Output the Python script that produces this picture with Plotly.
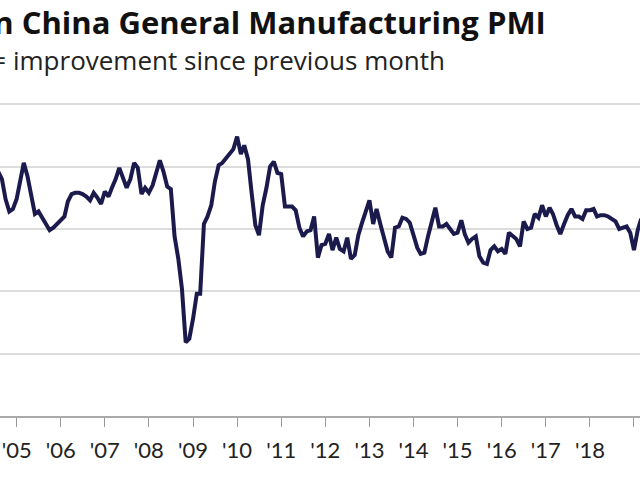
import pandas as pd
import plotly.graph_objects as go

# Monthly PMI values, Jul 2004 .. Apr 2019
pmi_2004 = [55.0, 54.6, 54.0, 52.4, 51.4, 51.6]  # Jul-Dec
pmi_2005 = [52.4, 53.8, 55.3, 54.2, 52.6, 51.2, 51.4, 50.9, 50.4, 49.9, 50.1, 50.4]
pmi_2006 = [50.7, 51.0, 52.2, 52.8, 52.9, 52.9, 52.8, 52.6, 52.3, 52.9, 52.5, 52.0]
pmi_2007 = [53.0, 52.6, 53.3, 54.0, 54.9, 54.0, 53.3, 54.0, 55.3, 54.9, 52.8, 53.3]
pmi_2008 = [52.9, 53.5, 54.6, 55.5, 54.6, 53.4, 53.2, 49.4, 47.6, 45.2, 40.9, 41.2]
pmi_2009 = [42.8, 44.8, 44.8, 50.4, 51.0, 51.9, 53.8, 55.1, 55.3, 55.7, 56.0, 56.4]
pmi_2010 = [57.4, 56.0, 56.7, 55.6, 52.9, 50.3, 49.5, 51.9, 53.3, 55.0, 55.4, 54.5]
pmi_2011 = [54.4, 51.8, 51.8, 51.8, 51.5, 50.1, 49.4, 49.8, 49.9, 51.0, 47.7, 48.7]
pmi_2012 = [48.8, 49.6, 48.3, 49.3, 48.4, 48.2, 49.3, 47.6, 47.9, 49.5, 50.5, 51.5]
pmi_2013 = [52.3, 50.4, 51.6, 50.4, 49.2, 48.2, 47.7, 50.1, 50.2, 50.9, 50.8, 50.5]
pmi_2014 = [49.5, 48.5, 48.0, 48.1, 49.4, 50.7, 51.7, 50.2, 50.2, 50.4, 50.0, 49.6]
pmi_2015 = [49.7, 50.7, 49.6, 48.9, 49.2, 49.4, 47.8, 47.3, 47.2, 48.3, 48.6, 48.2]
pmi_2016 = [48.4, 48.0, 49.7, 49.4, 49.2, 48.6, 50.6, 50.0, 50.1, 51.2, 50.9, 51.9]
pmi_2017 = [51.0, 51.7, 51.2, 50.3, 49.6, 50.4, 51.1, 51.6, 51.0, 51.0, 50.8, 51.5]
pmi_2018 = [51.5, 51.6, 51.0, 51.1, 51.1, 51.0, 50.8, 50.6, 50.0, 50.1, 50.2, 49.7]
pmi_2019 = [48.3, 49.9, 50.8, 50.2]

values = (pmi_2004 + pmi_2005 + pmi_2006 + pmi_2007 + pmi_2008 + pmi_2009 +
          pmi_2010 + pmi_2011 + pmi_2012 + pmi_2013 + pmi_2014 + pmi_2015 +
          pmi_2016 + pmi_2017 + pmi_2018 + pmi_2019)
dates = pd.date_range("2004-07-01", periods=len(values), freq="MS")

tick_years = list(range(2005, 2020))
tick_labels = ["'%02d" % (y % 100) for y in tick_years]
tick_dates = ["%d-01-01" % y for y in tick_years]

title_text = "Caixin China General Manufacturing PMI"
subtitle_text = "50+ = improvement since previous month"

fig = go.Figure()
fig.add_trace(go.Scatter(
    x=dates, y=values, mode="lines",
    line=dict(color="#1b1a4c", width=4),
    hoverinfo="skip", showlegend=False,
))

TOP, BOTTOM = 98, 64
plot_h = 480 - TOP - BOTTOM

def ypix(p):
    return (480 - BOTTOM - p) / plot_h

fig.update_layout(
    width=640, height=480,
    margin=dict(l=0, r=0, t=TOP, b=BOTTOM),
    paper_bgcolor="white", plot_bgcolor="white",
    font=dict(family="'Open Sans', Lato, sans-serif", color="#222"),
    xaxis=dict(
        type="date",
        range=["2004-08-16", "2019-02-20"],
        tickvals=tick_dates, ticktext=tick_labels,
        ticks="outside", ticklen=9, tickcolor="#999", tickwidth=1.3,
        showline=True, linecolor="#aaa", linewidth=1.5,
        showgrid=False, zeroline=False,
        ticklabelstandoff=5,
        tickfont=dict(size=22, color="#222", family="Lato, sans-serif"),
        fixedrange=True,
    ),
    yaxis=dict(
        range=[35, 60.5],
        tickvals=[40, 45, 50, 55, 60],
        showticklabels=False,
        showgrid=True, gridcolor="#dcdcdc", gridwidth=1.5,
        zeroline=False, showline=False, ticks="",
        fixedrange=True,
    ),
    annotations=[
        dict(text="<b>" + title_text + "</b>", xref="paper", yref="paper",
             x=548 / 640, y=ypix(22), xanchor="right", yanchor="middle",
             showarrow=False, font=dict(size=31, color="#111", family="'Open Sans', sans-serif")),
        dict(text=subtitle_text, xref="paper", yref="paper",
             x=447 / 640, y=ypix(60), xanchor="right", yanchor="middle",
             showarrow=False, font=dict(size=26, color="#222", family="'Open Sans', sans-serif")),
    ],
)

fig.write_html("out.html", config={"displayModeBar": False},
               post_script="document.body.style.margin='0';")
